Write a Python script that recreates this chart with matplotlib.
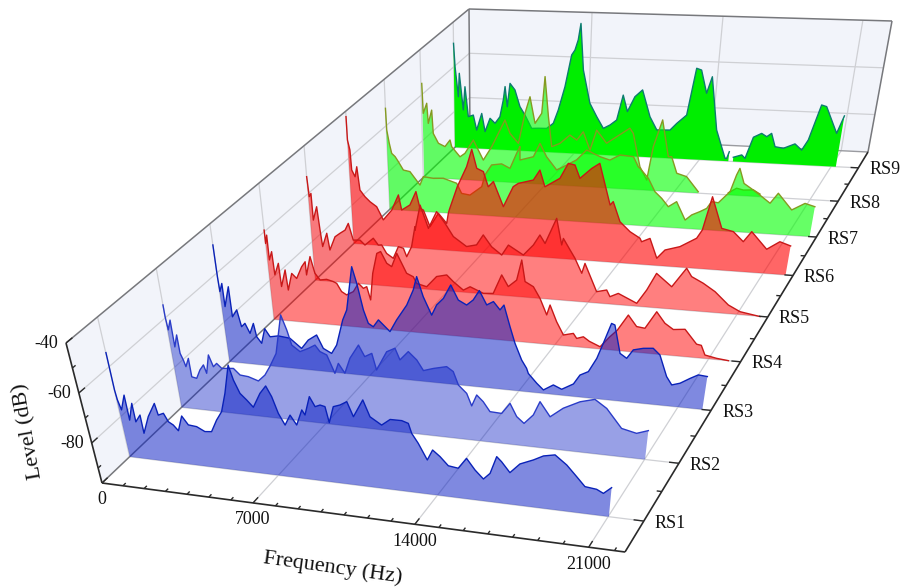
import numpy as np
import matplotlib
matplotlib.use('Agg')
import matplotlib.pyplot as plt

plt.rcParams['font.family'] = ['Liberation Serif', 'DejaVu Serif']

series_names = ['RS1', 'RS2', 'RS3', 'RS4', 'RS5', 'RS6', 'RS7', 'RS8', 'RS9']

# frequency (Hz) and level (dB), -99 = under the floor
freq_rs1 = [10,10,10,10,40,130,410,410,690,690,960,960,1340,1760,1830,2090,2240,2440,2630,2920,3150,3520,
            3860,4170,4500,4800,5100,5460,5580,5770,6020,6260,6650,6950,7140,7320,7540,7820,8050,8360,8470,8760,8950,9170,
            9370,9470,9720,10010,10310,10520,10980,11210,11660,12030,12500,12760,12870,13110,13440,13680,13970,14290,14690,15040,15370,15700,
            15970,16240,16430,16760,17150,17670,18050,18490,18950,19350,19690,20140,20410,20700]
level_rs1 = [-54.3,-58.6,-63.3,-69.3,-73.2,-77.1,-70.9,-80.9,-73.9,-81.3,-78.3,-85.6,-78.5,-72.8,-77.4,-76.4,-79.6,-80.7,-82.8,-76.6,-79.9,-80.2,
             -81.8,-81.5,-76.5,-72.8,-65.1,-53.4,-59.3,-64.4,-66.8,-69.4,-63.4,-60.1,-64.2,-70.7,-75.1,-70.8,-74.5,-68.1,-70.0,-62.3,-66.1,-65.2,
             -65.6,-71.9,-65.2,-64.2,-62.5,-68.3,-61.0,-67.5,-70.3,-67.6,-67.5,-68.3,-72.2,-75.9,-82.2,-77.9,-80.2,-83.5,-84.0,-79.6,-83.9,-87.1,
             -84.5,-77.4,-79.2,-83.2,-79.2,-76.9,-74.8,-73.8,-77.3,-81.5,-85.1,-85.6,-86.9,-84.2]
freq_rs2 = [0,0,40,210,210,400,410,510,580,770,780,1010,1240,1450,1540,1770,1920,2100,2310,2870,3140,3520,
            3970,4320,4620,4980,5420,5610,5750,6090,6490,6800,6990,7280,7560,7760,8010,8300,8730,8960,9280,9430,9930,10300,
            10480,10860,11200,11460,11890,12450,12720,12920,13260,13460,13680,13950,14230,14720,15070,15350,15660,16040,16300,16730,17250,17910,
            18490,18980,19630,20240,20690]
level_rs2 = [-54.8,-59.5,-64.8,-60.7,-71.5,-66.5,-73.9,-76.5,-79.1,-75.6,-83.0,-83.4,-79.8,-77.6,-80.9,-73.3,-77.9,-76.4,-78.2,-77.7,-80.1,-80.4,
             -81.7,-79.0,-75.1,-69.7,-53.8,-59.7,-65.6,-67.9,-66.2,-64.6,-67.0,-68.1,-75.2,-71.0,-74.7,-68.4,-62.7,-67.1,-65.5,-72.0,-64.2,-62.4,
             -66.9,-63.2,-66.2,-70.2,-68.9,-67.6,-69.3,-74.5,-77.5,-82.3,-77.7,-80.1,-83.8,-84.0,-79.6,-84.6,-87.0,-83.2,-77.6,-83.2,-79.2,-75.9,
             -74.3,-77.4,-84.7,-86.0,-84.4]
freq_rs3 = [0,0,0,20,170,170,470,470,730,860,1050,1240,1470,1550,1760,2000,2220,2630,3190,3710,4080,4510,
            4770,5150,5430,5830,6060,6460,6630,6840,7020,7240,7500,8000,8340,8840,9170,9350,9600,9940,10180,10490,10830,11140,
            11500,11790,12060,12370,12660,12940,13110,13370,13590,13890,14110,14190,14570,14870,15300,15670,16170,16430,16780,17100,17330,17610,
            17750,18050,18340,18580,18980,19380,19680,20050,20300,20630,21010,21320,21690]
level_rs3 = [-48.6,-56.1,-61.5,-67.5,-64.1,-73.5,-65.2,-77.4,-74.4,-81.1,-79.6,-83.5,-79.3,-84.6,-87.1,-81.0,-84.1,-83.4,-83.9,-87.6,-83.9,-81.5,
             -86.7,-88.4,-84.8,-74.3,-70.1,-52.3,-58.9,-69.5,-74.7,-75.9,-72.9,-77.2,-72.2,-65.8,-59.4,-53.9,-61.8,-68.9,-64.6,-61.7,-56.0,-61.8,
             -63.5,-61.2,-57.2,-62.7,-61.1,-64.2,-62.1,-70.5,-77.0,-83.5,-86.6,-88.6,-92.2,-94.6,-92.2,-93.6,-91.0,-87.2,-85.5,-79.9,-73.6,-65.4,
             -65.9,-77.0,-78.7,-75.1,-74.1,-73.7,-76.1,-84.4,-87.5,-86.5,-84.2,-82.5,-82.8]
freq_rs4 = [0,0,100,100,260,300,540,580,850,910,1170,1400,1710,1910,1920,2180,2350,2580,2910,3240,3400,3610,
            3850,4200,4480,4710,4880,5030,5220,5480,5670,5930,6160,6440,6860,7170,7320,7790,8280,8760,9060,9520,9840,10450,
            10910,11300,11600,11980,12200,12360,12740,13050,13370,13510,13830,14160,14610,14770,15070,15350,15850,16260,16570,17000,17400,17770,
            18210,18610,19000,19500,19800,20070,20280,20490,21010,21530]
level_rs4 = [-59.3,-64.8,-61.3,-71.5,-68.0,-77.5,-72.6,-82.1,-75.1,-83.3,-76.3,-78.2,-73.2,-71.0,-76.4,-68.7,-75.4,-78.0,-77.5,-78.2,-78.8,-82.0,
             -83.2,-81.6,-78.0,-79.9,-79.1,-84.4,-73.4,-65.1,-64.2,-68.8,-70.0,-64.4,-72.2,-73.4,-76.0,-77.0,-72.5,-71.5,-74.0,-77.1,-75.5,-77.7,
             -77.4,-69.6,-74.1,-71.2,-62.9,-71.5,-73.3,-77.8,-84.2,-80.1,-86.6,-91.7,-90.7,-92.6,-91.7,-93.3,-95.1,-90.7,-87.8,-81.4,-85.7,-86.1,
             -79.1,-83.4,-85.6,-85.1,-88.0,-90.6,-90.9,-94.6,-95.5,-96.0]
freq_rs5 = [0,50,150,160,390,470,540,810,910,1230,1500,1780,1970,2170,2520,2760,3210,3450,3620,3850,4180,4470,
            4720,4870,5140,5350,5350,5650,6020,6450,6850,7240,7880,8370,8700,9100,9590,9910,10630,11100,11400,11650,12160,12430,
            12500,12830,13070,13420,13550,14160,14630,14800,15180,16070,16480,16860,17600,18180,18440,18990,19560,20230,20790,21710]
level_rs5 = [-52.9,-61.2,-59.8,-70.9,-65.2,-74.8,-81.7,-76.0,-82.9,-77.2,-75.6,-74.1,-71.2,-78.0,-77.8,-79.7,-76.6,-79.3,-79.1,-82.5,-84.3,-79.3,
             -79.8,-83.2,-78.9,-70.5,-72.0,-61.4,-70.8,-63.6,-68.2,-73.4,-77.1,-76.1,-71.8,-76.4,-79.5,-75.2,-78.8,-74.4,-70.1,-73.4,-62.8,-73.5,
             -70.8,-75.3,-78.5,-84.4,-80.3,-91.4,-90.4,-93.0,-91.4,-94.8,-89.1,-82.1,-87.0,-79.1,-82.3,-84.6,-87.6,-92.5,-94.8,-96.1]
freq_rs6 = [0,0,100,130,290,410,510,760,1020,1360,1520,1680,2160,2550,2690,3140,3480,3660,3840,4160,4620,5040,
            5140,5190,5630,6120,6390,6630,6960,7200,7460,7960,8450,8700,9440,9750,10010,10730,11110,11430,11690,12230,12600,13190,
            13330,13710,14220,14720,14810,15200,15600,15960,16650,17390,17610,17900,18490,19040,19550,19870,20660,21200,21710]
level_rs6 = [-42.3,-52.2,-56.4,-64.8,-67.6,-63.3,-73.1,-75.8,-77.8,-79.7,-82.4,-85.1,-80.7,-74.1,-80.4,-78.0,-72.2,-79.1,-79.8,-86.6,-80.7,-84.7,
             -80.4,-79.0,-69.0,-60.4,-53.0,-60.8,-62.0,-68.2,-65.9,-76.1,-67.5,-66.0,-64.2,-59.9,-66.7,-62.8,-56.4,-56.9,-62.3,-57.9,-55.6,-72.5,
             -71.0,-79.1,-82.9,-85.3,-86.7,-85.1,-93.0,-89.4,-87.6,-83.7,-80.2,-66.4,-79.0,-80.0,-83.8,-79.5,-86.2,-82.8,-84.2]
freq_rs7 = [0,20,130,240,420,590,850,1210,1480,1740,1940,2490,3030,3750,4010,4460,5100,5280,5630,6160,6600,6940,
            7110,7110,7120,7810,8140,8490,9020,9360,10020,10510,11190,11690,12180,12840,13110,13200,13650,14020,14380,14740,15130,15630,
            15930,16320,16630,16830,17160,17660,17870,17990,18270,18750,19090,19620,19940,20680,20680,21250,21730]
level_rs7 = [-52.5,-61.8,-67.5,-71.8,-73.1,-75.2,-78.7,-79.2,-82.0,-84.7,-81.0,-81.5,-81.2,-83.0,-87.2,-87.7,-83.8,-78.7,-74.3,-73.6,-75.3,-68.8,
             -65.8,-66.0,-71.5,-69.8,-64.0,-69.5,-74.8,-73.3,-70.1,-65.7,-68.2,-69.4,-67.0,-67.4,-71.5,-72.1,-76.1,-81.5,-84.1,-87.4,-85.1,-92.5,
             -90.2,-88.6,-87.1,-84.2,-84.5,-79.6,-72.6,-69.8,-75.9,-78.4,-80.3,-83.4,-79.1,-85.6,-85.6,-82.6,-83.7]
freq_rs8 = [50,90,300,360,570,630,910,1280,1570,1660,2120,2400,2880,3430,3900,4630,4910,5370,5710,5970,6260,6610,
            6750,6970,7180,7620,8140,8510,8840,9230,9540,10090,10600,11260,11450,11900,12300,12520,12900,13330,13500,13830,14350,15020,15800,
            16560,16950,17300,17800,18160]
level_rs8 = [-54.8,-67.9,-63.4,-72.2,-66.3,-76.5,-80.7,-82.0,-79.0,-81.9,-86.1,-84.5,-78.5,-87.0,-81.0,-69.1,-74.8,-78.9,-65.8,-58.5,-69.9,-65.4,
             -49.5,-66.7,-79.6,-78.0,-74.2,-76.2,-72.5,-80.2,-71.5,-76.9,-73.9,-70.0,-72.1,-86.2,-91.7,-77.4,-65.8,-81.3,-81.2,-88.1,-89.3,-95.4,-99,
             -95.1,-93.0,-93.6,-93.3,-94.9]
freq_rs9 = [0,70,240,310,520,630,810,1100,1290,1590,1780,2070,2360,2640,2830,2930,3060,3210,3490,3780,4070,4460,4840,5310,5680,5940,6280,6600,6770,6930,7050,7260,7680,8080,8470,8830,9180,9470,9740,10100,10490,10970,11380,12090,12420,12910,13230,13490,13850,14070,14550,15140,15230,15330,15450,15570,16000,16190,16500,16900,17180,17410,17670,18110,18670,19050,19310,19710,19970,20670,20910]
level_rs9 = [-49.5,-59.9,-73.3,-62.8,-79.1,-68.7,-82.0,-81.2,-87.8,-80.3,-88.3,-82.3,-84.4,-81.4,-73.9,-67.9,-76.8,-66.4,-69.2,-76.5,-80.1,-85.9,-85.7,-85.6,-83.2,-77.3,-66.9,-52.8,-50.6,-46.1,-38.8,-59.2,-73.7,-79.4,-84.4,-82.8,-80.5,-69.5,-76.6,-70.0,-66.9,-78.4,-84.0,-83.8,-80.8,-77.0,-56.6,-57.3,-67.2,-60.0,-82.8,-94.8,-94.8,-91.9,-99,-94.2,-93.0,-94.4,-85.2,-83.4,-84.7,-83.2,-88.8,-89.3,-87.2,-89.7,-85.3,-70.2,-70.8,-81.9,-74.4]

all_freq = [freq_rs1, freq_rs2, freq_rs3, freq_rs4, freq_rs5, freq_rs6, freq_rs7, freq_rs8, freq_rs9]
all_level = [level_rs1, level_rs2, level_rs3, level_rs4, level_rs5, level_rs6, level_rs7, level_rs8, level_rs9]

BLUE, RED, GREEN = '#0a1ec4', '#ff0000', '#00ff00'
fill_col = [BLUE, BLUE, BLUE, RED, RED, RED, GREEN, GREEN, '#00ee00']
fill_alpha = [0.52, 0.42, 0.52, 0.5, 0.5, 0.6, 0.6, 0.6, 1.0]
line_col = ['#0a22b8', '#2a3cc8', '#0a22b8', '#c81818', '#c81818', '#c81818', '#859a20', '#859a20', '#0c7c70']

FMAX = 22400.0
FREAD = 22050.0  # span the frequencies above were read against
ZMIN, ZMAX = -96.0, -40.0
RS_MIN, RS_MAX = 0.5, 9.5


def homography(c):
    A, B = [], []
    for (u, v), (x, y) in zip([(0, 0), (1, 0), (1, 1), (0, 1)], c):
        A.append([u, v, 1, 0, 0, 0, -u * x, -v * x]); B.append(x)
        A.append([0, 0, 0, u, v, 1, -u * y, -v * y]); B.append(y)
    return np.append(np.linalg.solve(np.array(A, float), np.array(B, float)), 1).reshape(3, 3)


# perspective box: floor corners and top corners on the 911x588 canvas
H_FLOOR = homography([(102, 483), (625, 552), (868, 152), (470, 133)])
H_TOP = homography([(66, 343), (641, 416), (892, 21), (469, 9)])


def project(f, rs, z):
    u, v = np.asarray(f, float) / FMAX, (np.asarray(rs, float) - RS_MIN) / (RS_MAX - RS_MIN)
    t = (np.asarray(z, float) - ZMIN) / (ZMAX - ZMIN)
    out = []
    for H in (H_FLOOR, H_TOP):
        w = H[2, 0] * u + H[2, 1] * v + H[2, 2]
        out.append(((H[0, 0] * u + H[0, 1] * v + H[0, 2]) / w, (H[1, 0] * u + H[1, 1] * v + H[1, 2]) / w))
    return out[0][0] + t * (out[1][0] - out[0][0]), out[0][1] + t * (out[1][1] - out[0][1])


def seg(ax, a, b, **kw):
    xa, ya = project(*a)
    xb, yb = project(*b)
    ax.plot([xa, xb], [ya, yb], solid_capstyle='butt', **kw)


fig = plt.figure(figsize=(9.11, 5.88), dpi=100)
ax = fig.add_axes([0, 0, 1, 1])
ax.set_xlim(0, 911); ax.set_ylim(588, 0); ax.axis('off')

WALL = '#f2f4fa'
GRID = dict(color='#cfd0d4', lw=0.9, zorder=1)
FRAME = dict(color='#77787c', lw=1.1, zorder=1.5)
AXIS = dict(color='#2a2a2a', lw=1.2, zorder=20)
TICK = dict(color='#2a2a2a', lw=1, zorder=20)

# walls
corners = [(0, RS_MIN, ZMIN), (0, RS_MIN, ZMAX), (0, RS_MAX, ZMAX), (0, RS_MAX, ZMIN)]
ax.fill(*zip(*[project(*c) for c in corners]), color=WALL, lw=0, zorder=0)
corners = [(0, RS_MAX, ZMIN), (0, RS_MAX, ZMAX), (FMAX, RS_MAX, ZMAX), (FMAX, RS_MAX, ZMIN)]
ax.fill(*zip(*[project(*c) for c in corners]), color=WALL, lw=0, zorder=0)

# grid lines
for f in [7000, 14000, 21000]:
    seg(ax, (f, RS_MIN, ZMIN), (f, RS_MAX, ZMIN), **GRID)
    seg(ax, (f, RS_MAX, ZMIN), (f, RS_MAX, ZMAX), **GRID)
for z in [-60, -80]:
    seg(ax, (0, RS_MIN, z), (0, RS_MAX, z), **GRID)
    seg(ax, (0, RS_MAX, z), (FMAX, RS_MAX, z), **GRID)
for k in range(1, 10):
    seg(ax, (0, k, ZMIN), (FMAX, k, ZMIN), **GRID)
    seg(ax, (0, k, ZMIN), (0, k, ZMAX), **GRID)

# box frame behind the spectra
seg(ax, (0, RS_MAX, ZMIN), (FMAX, RS_MAX, ZMIN), color='#9a9ba0', lw=1, zorder=1.5)
seg(ax, (0, RS_MIN, ZMAX), (0, RS_MAX, ZMAX), **FRAME)
seg(ax, (0, RS_MAX, ZMAX), (FMAX, RS_MAX, ZMAX), **FRAME)
seg(ax, (FMAX, RS_MAX, ZMAX), (FMAX, RS_MAX, ZMIN), **FRAME)
seg(ax, (0, RS_MAX, ZMAX), (0, RS_MAX, ZMIN), **FRAME)
seg(ax, (0, RS_MIN, ZMIN), (0, RS_MAX, ZMIN), **FRAME)

# spectra, back to front
for i in range(8, -1, -1):
    rs = i + 1
    depth = 3 + (8 - i)
    f = np.array(all_freq[i], float) * FMAX / FREAD
    lv = np.array(all_level[i], float)
    breaks = np.where(lv < -97)[0]
    start = 0
    for stop in list(breaks) + [len(f)]:
        if stop - start >= 2:
            fr, lr = f[start:stop], lv[start:stop]
            xs, ys = project(fr, rs, lr)
            xb, yb = project(fr[[-1, 0]], rs, ZMIN)
            ax.fill(np.r_[xs, xb], np.r_[ys, yb], color=fill_col[i], alpha=fill_alpha[i], lw=0, zorder=depth)
            ax.plot(xs, ys, color=line_col[i], lw=1.0, solid_joinstyle='round', zorder=depth + 0.5)
        start = stop + 1

# front axes
seg(ax, (0, RS_MIN, ZMIN), (0, RS_MIN, ZMAX), **AXIS)
seg(ax, (0, RS_MIN, ZMIN), (FMAX, RS_MIN, ZMIN), **AXIS)
seg(ax, (FMAX, RS_MIN, ZMIN), (FMAX, RS_MAX, ZMIN), **AXIS)

for f in range(0, 23000, 1000):
    tick = 0.10 if f % 7000 == 0 else 0.05
    seg(ax, (f, RS_MIN, ZMIN), (f, RS_MIN + tick, ZMIN), **TICK)
for r in np.arange(1, 9.5, 0.5):
    seg(ax, (FMAX, r, ZMIN), (FMAX - (400 if r == int(r) else 200), r, ZMIN), **TICK)
for z in range(-90, -39, 10):
    seg(ax, (0, RS_MIN, z), (0, RS_MIN + (0.10 if z % 20 == 0 else 0.05), z), **TICK)

# labels
FS = 13
for z in [-40, -60, -80]:
    x, y = project(0, RS_MIN, z)
    ax.text(x - 8, y, str(z), ha='right', va='center', fontsize=FS, color='#111111')
for f in [0, 7000, 14000, 21000]:
    x, y = project(f, RS_MIN, ZMIN)
    ax.text(x, y + 17, str(f), ha='center', va='center', fontsize=FS, color='#111111')
for k, name in enumerate(series_names):
    x, y = project(FMAX, k + 1, ZMIN)
    ax.text(x + 11, y + 2, name, ha='left', va='center', fontsize=FS, color='#111111')

ax.text(29, 431, 'Level (dB)', rotation=100, ha='center', va='center', fontsize=16, color='#111111')
ax.text(333, 568, 'Frequency (Hz)', rotation=-8, ha='center', va='center', fontsize=16, color='#111111')

fig.savefig('out.png', dpi=100)
